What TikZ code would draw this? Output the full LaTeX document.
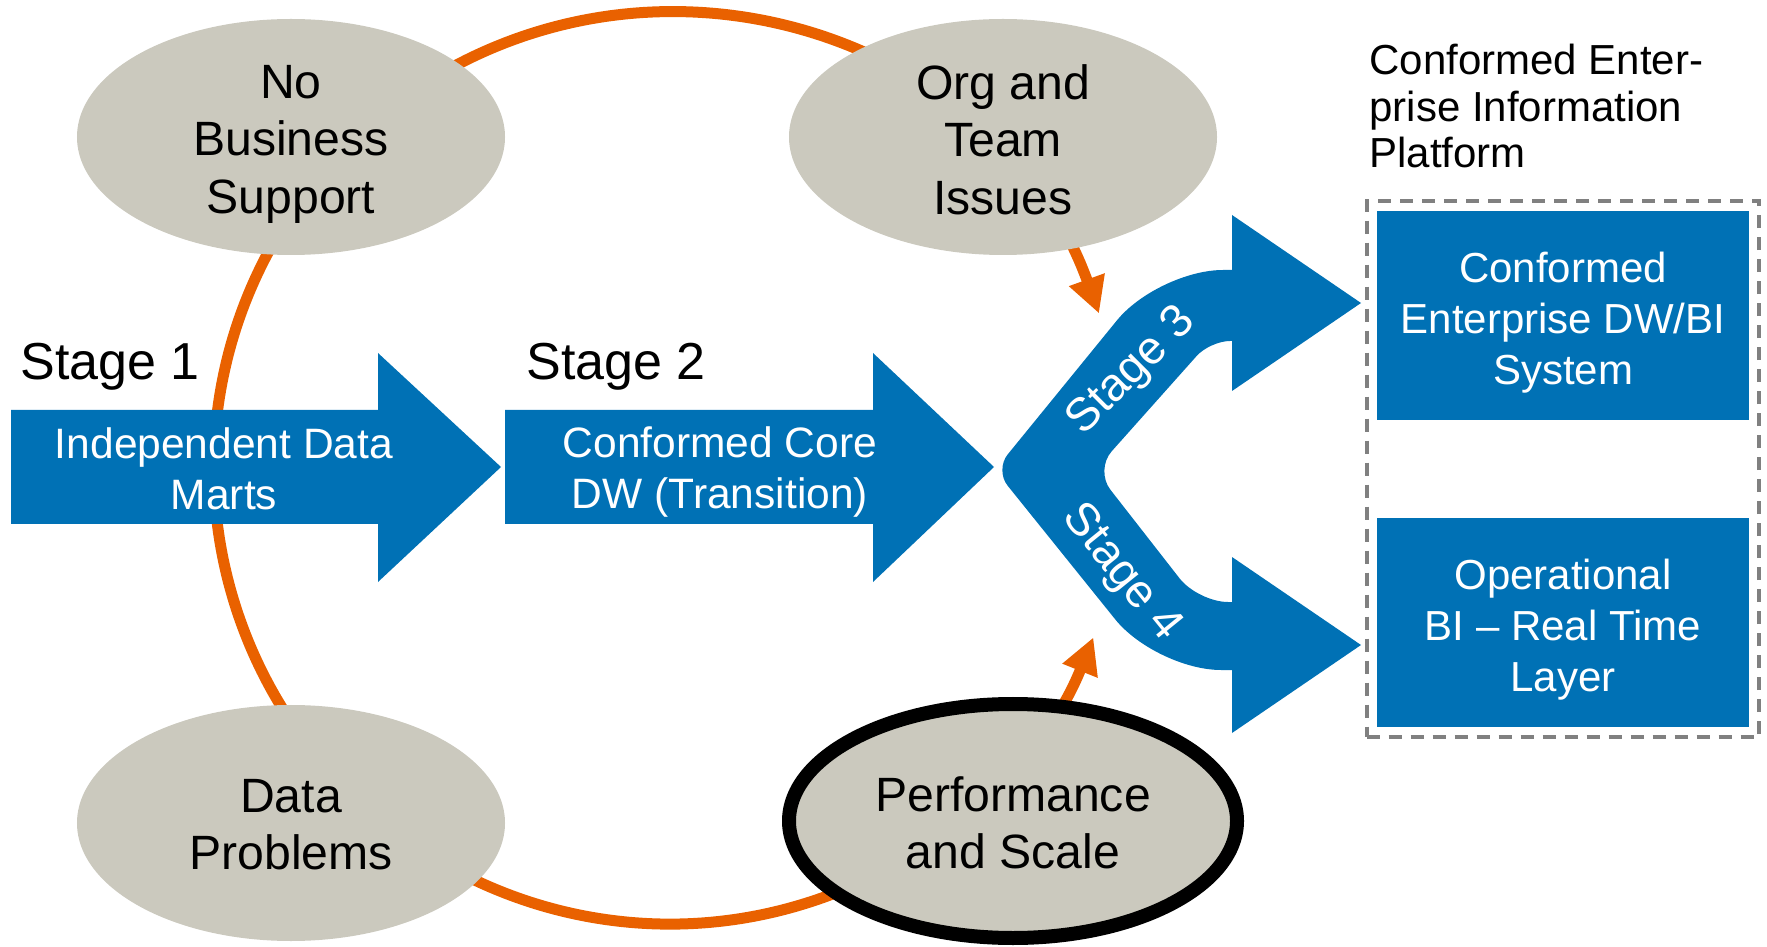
\documentclass[tikz,border=0pt]{standalone}
\usepackage{fontspec}
\setmainfont{Liberation Sans}
\usetikzlibrary{arrows.meta,shapes.geometric,fit}
\definecolor{dwblue}{RGB}{0,113,181}
\definecolor{issuegray}{RGB}{203,201,190}
\definecolor{ringorange}{RGB}{233,97,0}
\definecolor{framegray}{RGB}{128,128,128}

\begin{document}
\begin{tikzpicture}[x=0.2mm,y=0.2mm,
		issue/.style={ellipse,fill=issuegray,minimum width=85.6mm,minimum height=47.2mm,inner sep=0pt},
		issuetxt/.style={align=center,inner sep=0pt,font=\fontsize{27.4}{32.7}\selectfont},
		stagelbl/.style={anchor=base,inner sep=0pt,font=\fontsize{29.6}{34}\selectfont},
		inarrow/.style={align=center,inner sep=0pt,text=white,font=\fontsize{24.2}{28.9}\selectfont},
		target/.style={fill=dwblue,minimum width=74.4mm,minimum height=41.8mm,inner sep=0pt},
		ring/.style={ringorange,line width=2.2mm,{Triangle[length=7.2mm,width=7.1mm]}-{Triangle[length=7.2mm,width=7.1mm]}}]
	\useasboundingbox (0,0) rectangle (1767,946);
	\coordinate (ctr) at (670,478);
	
	\draw[ring] ([shift={(19.8:456)}]ctr) arc[start angle=19.8,end angle=338.2,radius=456];
	
	\node (nbs) at (291,809) [issue] {};
	\node (org) at (1003,809) [issue] {};
	\node (dat) at (291,123) [issue] {};
	\node (perf) at (1013,125) [issue,draw=black,line width=2.8mm,minimum width=89.6mm,minimum height=46.8mm] {};
	\node (nbstxt) at ([yshift=-4pt]nbs.center) [issuetxt] {No\\Business\\Support};
	\node (orgtxt) at ([yshift=-1.5pt]org.center) [issuetxt] {Org and\\Team\\Issues};
	\node (dattxt) at ([yshift=-1pt]dat.center) [issuetxt] {Data\\Problems};
	\node (perftxt) at ([yshift=-1pt]perf.center) [issuetxt] {Performance\\and Scale};
	
	\fill[dwblue] (11,536) -- (378,536) -- (378,593) -- (501,479) -- (378,364) -- (378,422) -- (11,422) -- cycle;
	\fill[dwblue] (505,536) -- (873,536) -- (873,593) -- (994,479) -- (873,364) -- (873,422) -- (505,422) -- cycle;
	\fill[dwblue] (1232,676) [rounded corners=13mm] -- (1158,676) [rounded corners=4mm] -- (995,476) [rounded corners=13mm] -- (1156,276) [sharp corners] -- (1232,276) -- (1232,213) -- (1361,301) -- (1232,389) -- (1232,344) [rounded corners=6mm] -- (1198,344) [rounded corners=5mm] -- (1095,476) [rounded corners=4mm] -- (1210,605) [sharp corners] -- (1232,605) -- (1232,555) -- (1361,643) -- (1232,731) -- cycle;
	
	\node (s1) at (110,566) [stagelbl] {Stage 1};
	\node (s2) at (616,566) [stagelbl] {Stage 2};
	\node (idm) at (224,477) [inarrow] {Independent Data\\Marts};
	\node (ccd) at (720,474) [inarrow] {Conformed Core\\DW (Transition)};
	\node (s3) at (1132,574) [inarrow,rotate=45,font=\fontsize{26.5}{30}\selectfont] {Stage 3};
	\node (s4) at (1121,373) [inarrow,rotate=-51,font=\fontsize{26.5}{30}\selectfont] {Stage 4};
	
	\node (conf) at (1563,630.5) [target] {};
	\node (oper) at (1563,323.5) [target] {};
	\node (conftxt) at ([yshift=-4pt]conf.center) [inarrow,font=\fontsize{23.9}{28.9}\selectfont] {Conformed\\Enterprise DW/BI\\System};
	\node (opertxt) at ([yshift=-4pt]oper.center) [inarrow,font=\fontsize{23.9}{28.9}\selectfont] {Operational\\BI – Real Time\\Layer};
	\node (frame) [draw=framegray,line width=0.8mm,dash pattern=on 2.6mm off 1.8mm,inner sep=2mm,fit=(conf)(oper)] {};
	\node (plat) at (1369,902) [anchor=north west,inner sep=0pt,align=left,font=\fontsize{23.9}{26.4}\selectfont] {Conformed Enter-\\prise Information\\Platform};
\end{tikzpicture}
\end{document}
